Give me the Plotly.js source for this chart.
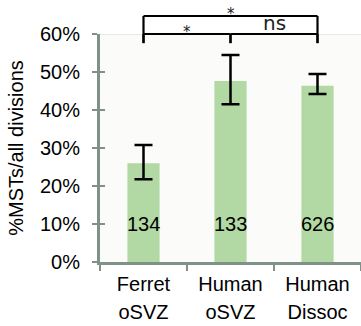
<!DOCTYPE html>
<html>
<head>
<meta charset="utf-8">
<script src="https://cdn.plot.ly/plotly-3.0.1.min.js"></script>
<style>html,body{margin:0;padding:0;background:#fff;}#chart{width:361px;height:326px;}</style>
</head>
<body>
<div id="chart"></div>
<script>
const categories = ["Ferret oSVZ", "Human oSVZ", "Human Dissoc"];
const labelLine1 = ["Ferret", "Human", "Human"];
const labelLine2 = ["oSVZ", "oSVZ", "Dissoc"];
const values = [26, 47.6, 46.4];
const errPlus = [4.8, 6.9, 3.1];
const errMinus = [4.2, 6.1, 2.2];
const counts = ["134", "133", "626"];
const yTicks = [0, 10, 20, 30, 40, 50, 60];
const comparisons = [
  {from: 0, to: 1, label: "*", level: "low"},
  {from: 1, to: 2, label: "ns", level: "low"},
  {from: 0, to: 2, label: "*", level: "high"}
];

const axisColor = "#7f928a";
const font = "Liberation Sans, Arial, Helvetica, sans-serif";

const trace = {
  type: "bar",
  x: categories,
  y: values,
  width: 0.37,
  marker: {color: "#b2d8a3"},
  error_y: {type: "data", array: errPlus, arrayminus: errMinus, visible: true,
            color: "#000", thickness: 2.5, width: 9},
  hoverinfo: "none"
};
const dummyY = {type: "scatter", x: [categories[0]], y: [0], yaxis: "y2",
  mode: "markers", marker: {opacity: 0}, hoverinfo: "none", showlegend: false};
const dummyX = {type: "scatter", x: categories, y: categories.map(() => 0), xaxis: "x2",
  mode: "markers", marker: {opacity: 0}, hoverinfo: "none", showlegend: false};

const shapes = [];
const annotations = [];
shapes.push({type: "line", xref: "paper", yref: "y", x0: 0, x1: 1, y0: 60, y1: 60,
  line: {color: "#d6d6d6", width: 1}, layer: "below"});

const lowY = 1.0, highY = 1.079, tickBottom = 0.96;
comparisons.forEach(c => {
  const y = c.level === "low" ? lowY : highY;
  const lc = {color: "#000", width: 2.2};
  shapes.push({type: "line", xref: "x", yref: "paper", x0: categories[c.from], x1: categories[c.to], y0: y, y1: y, line: lc});
  shapes.push({type: "line", xref: "x", yref: "paper", x0: categories[c.from], x1: categories[c.from], y0: y, y1: tickBottom, line: lc});
  shapes.push({type: "line", xref: "x", yref: "paper", x0: categories[c.to], x1: categories[c.to], y0: y, y1: tickBottom, line: lc});
  const isStar = c.label === "*";
  annotations.push({xref: "x", yref: "paper", x: (c.from + c.to) / 2, y: y,
    yanchor: "bottom", yshift: isStar ? -9 : -3,
    text: c.label, showarrow: false,
    font: {family: "DejaVu Sans, sans-serif", size: isStar ? 15 : 20, color: "#222"}});
});
categories.forEach((cat, i) => {
  annotations.push({xref: "x", yref: "y", x: i, y: 10, text: counts[i], showarrow: false,
    font: {family: font, size: 20, color: "#000"}});
});

const layout = {
  width: 361, height: 326,
  margin: {l: 100, r: 0, t: 34, b: 64},
  paper_bgcolor: "#fff",
  plot_bgcolor: "#fbfcf9",
  showlegend: false,
  font: {family: font, size: 20, color: "#000"},
  xaxis: {
    type: "category", range: [-0.5, 2.5], tickvals: categories, ticktext: labelLine1,
    showline: true, linecolor: axisColor, linewidth: 3,
    ticks: "outside", tickson: "boundaries", ticklen: 6, tickwidth: 2, tickcolor: axisColor,
    showgrid: false, ticklabelstandoff: 2, tickfont: {family: font, size: 20, color: "#000"}
  },
  xaxis2: {
    type: "category", overlaying: "x", side: "bottom", range: [-0.5, 2.5],
    tickvals: categories, ticktext: labelLine2, showline: false, showgrid: false,
    ticks: "", ticklabelstandoff: 36, tickfont: {family: font, size: 20, color: "#000"}
  },
  yaxis: {
    range: [0, 60], tickvals: yTicks, ticktext: yTicks.map(v => v + "%"),
    showline: true, linecolor: axisColor, linewidth: 3,
    ticks: "outside", ticklen: 5, tickwidth: 2, tickcolor: axisColor,
    showgrid: false, zeroline: false, ticklabelstandoff: 8,
    tickfont: {family: font, size: 20, color: "#000"},
    title: {text: "%MSTs/all divisions", font: {family: font, size: 20, color: "#000"}, standoff: 11}
  },
  yaxis2: {
    overlaying: "y", side: "left", range: [0, 60], tickvals: yTicks,
    showticklabels: false, showline: false, showgrid: false, zeroline: false,
    ticks: "inside", ticklen: 5, tickwidth: 2, tickcolor: axisColor
  },
  shapes: shapes,
  annotations: annotations
};

Plotly.newPlot("chart", [trace, dummyY, dummyX], layout, {displayModeBar: false, staticPlot: true});
</script>
</body>
</html>
